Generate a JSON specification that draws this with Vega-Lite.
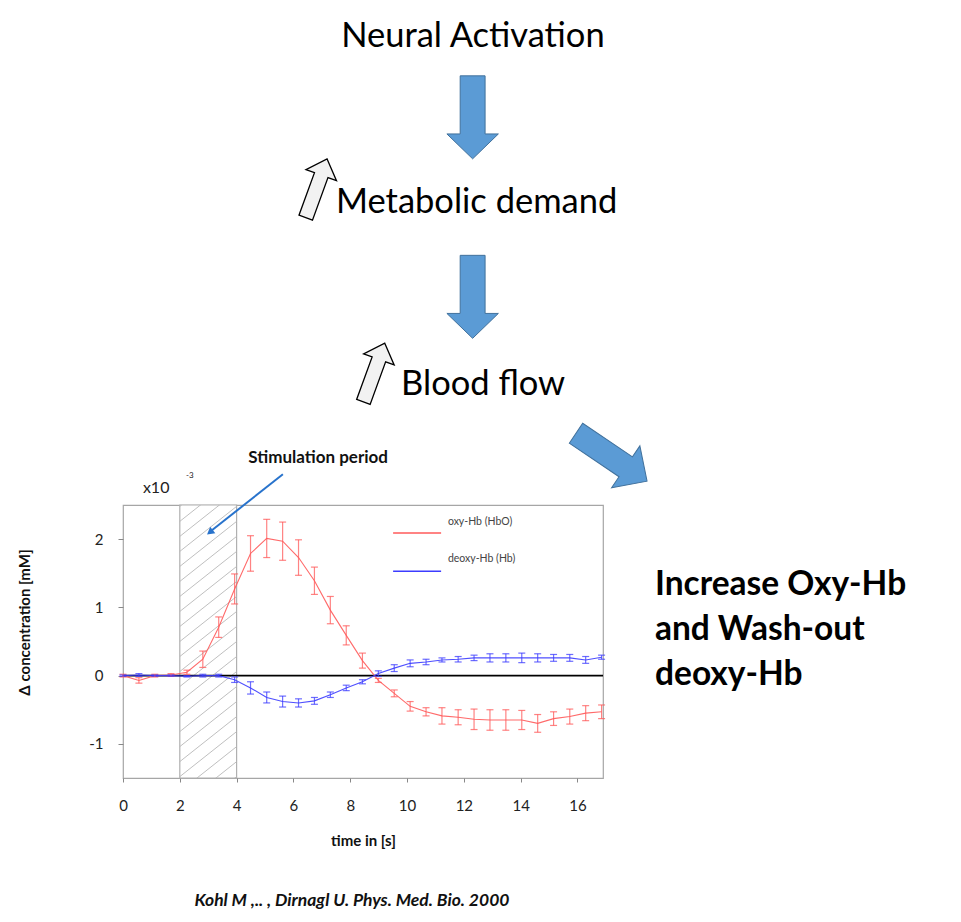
{
  "$schema": "https://vega.github.io/schema/vega-lite/v6.json",
  "width": 480,
  "height": 273,
  "autosize": {"type": "none"},
  "padding": {"left": 123, "top": 505, "right": 358, "bottom": 144},
  "background": "white",
  "config": {"view": {"stroke": "#a6a6a6", "strokeWidth": 1.2}, "font": "Lato"},
  "datasets": {
    "series": [
      {"series": "oxy-Hb (HbO)", "t": 0, "conc": 0.0, "err": 0.02},
      {"series": "oxy-Hb (HbO)", "t": 0.56, "conc": -0.07, "err": 0.04},
      {"series": "oxy-Hb (HbO)", "t": 1.12, "conc": 0.0, "err": 0.02},
      {"series": "oxy-Hb (HbO)", "t": 1.69, "conc": 0.01, "err": 0.02},
      {"series": "oxy-Hb (HbO)", "t": 2.25, "conc": 0.05, "err": 0.03},
      {"series": "oxy-Hb (HbO)", "t": 2.81, "conc": 0.24, "err": 0.12},
      {"series": "oxy-Hb (HbO)", "t": 3.37, "conc": 0.71, "err": 0.15},
      {"series": "oxy-Hb (HbO)", "t": 3.93, "conc": 1.27, "err": 0.22},
      {"series": "oxy-Hb (HbO)", "t": 4.49, "conc": 1.79, "err": 0.26},
      {"series": "oxy-Hb (HbO)", "t": 5.06, "conc": 2.01, "err": 0.28},
      {"series": "oxy-Hb (HbO)", "t": 5.62, "conc": 1.97, "err": 0.28},
      {"series": "oxy-Hb (HbO)", "t": 6.18, "conc": 1.73, "err": 0.26},
      {"series": "oxy-Hb (HbO)", "t": 6.74, "conc": 1.39, "err": 0.2},
      {"series": "oxy-Hb (HbO)", "t": 7.3, "conc": 0.96, "err": 0.2},
      {"series": "oxy-Hb (HbO)", "t": 7.86, "conc": 0.59, "err": 0.14},
      {"series": "oxy-Hb (HbO)", "t": 8.43, "conc": 0.22, "err": 0.11},
      {"series": "oxy-Hb (HbO)", "t": 8.99, "conc": -0.07, "err": 0.03},
      {"series": "oxy-Hb (HbO)", "t": 9.55, "conc": -0.26, "err": 0.05},
      {"series": "oxy-Hb (HbO)", "t": 10.11, "conc": -0.45, "err": 0.07},
      {"series": "oxy-Hb (HbO)", "t": 10.67, "conc": -0.53, "err": 0.06},
      {"series": "oxy-Hb (HbO)", "t": 11.23, "conc": -0.59, "err": 0.12},
      {"series": "oxy-Hb (HbO)", "t": 11.8, "conc": -0.61, "err": 0.11},
      {"series": "oxy-Hb (HbO)", "t": 12.36, "conc": -0.64, "err": 0.15},
      {"series": "oxy-Hb (HbO)", "t": 12.92, "conc": -0.65, "err": 0.15},
      {"series": "oxy-Hb (HbO)", "t": 13.48, "conc": -0.65, "err": 0.15},
      {"series": "oxy-Hb (HbO)", "t": 14.04, "conc": -0.65, "err": 0.14},
      {"series": "oxy-Hb (HbO)", "t": 14.6, "conc": -0.7, "err": 0.13},
      {"series": "oxy-Hb (HbO)", "t": 15.16, "conc": -0.63, "err": 0.1},
      {"series": "oxy-Hb (HbO)", "t": 15.73, "conc": -0.6, "err": 0.11},
      {"series": "oxy-Hb (HbO)", "t": 16.29, "conc": -0.55, "err": 0.11},
      {"series": "oxy-Hb (HbO)", "t": 16.85, "conc": -0.53, "err": 0.1},
      {"series": "deoxy-Hb (Hb)", "t": 0, "conc": 0.0, "err": 0.01},
      {"series": "deoxy-Hb (Hb)", "t": 0.56, "conc": 0.01, "err": 0.02},
      {"series": "deoxy-Hb (Hb)", "t": 1.12, "conc": 0.0, "err": 0.01},
      {"series": "deoxy-Hb (Hb)", "t": 1.69, "conc": 0.0, "err": 0.01},
      {"series": "deoxy-Hb (Hb)", "t": 2.25, "conc": -0.01, "err": 0.01},
      {"series": "deoxy-Hb (Hb)", "t": 2.81, "conc": 0.0, "err": 0.02},
      {"series": "deoxy-Hb (Hb)", "t": 3.37, "conc": 0.0, "err": 0.02},
      {"series": "deoxy-Hb (Hb)", "t": 3.93, "conc": -0.06, "err": 0.04},
      {"series": "deoxy-Hb (Hb)", "t": 4.49, "conc": -0.18, "err": 0.09},
      {"series": "deoxy-Hb (Hb)", "t": 5.06, "conc": -0.32, "err": 0.08},
      {"series": "deoxy-Hb (Hb)", "t": 5.62, "conc": -0.38, "err": 0.08},
      {"series": "deoxy-Hb (Hb)", "t": 6.18, "conc": -0.4, "err": 0.06},
      {"series": "deoxy-Hb (Hb)", "t": 6.74, "conc": -0.37, "err": 0.05},
      {"series": "deoxy-Hb (Hb)", "t": 7.3, "conc": -0.28, "err": 0.04},
      {"series": "deoxy-Hb (Hb)", "t": 7.86, "conc": -0.18, "err": 0.04},
      {"series": "deoxy-Hb (Hb)", "t": 8.43, "conc": -0.09, "err": 0.03},
      {"series": "deoxy-Hb (Hb)", "t": 8.99, "conc": 0.03, "err": 0.04},
      {"series": "deoxy-Hb (Hb)", "t": 9.55, "conc": 0.11, "err": 0.05},
      {"series": "deoxy-Hb (Hb)", "t": 10.11, "conc": 0.18, "err": 0.05},
      {"series": "deoxy-Hb (Hb)", "t": 10.67, "conc": 0.2, "err": 0.04},
      {"series": "deoxy-Hb (Hb)", "t": 11.23, "conc": 0.23, "err": 0.03},
      {"series": "deoxy-Hb (Hb)", "t": 11.8, "conc": 0.24, "err": 0.04},
      {"series": "deoxy-Hb (Hb)", "t": 12.36, "conc": 0.26, "err": 0.04},
      {"series": "deoxy-Hb (Hb)", "t": 12.92, "conc": 0.26, "err": 0.06},
      {"series": "deoxy-Hb (Hb)", "t": 13.48, "conc": 0.26, "err": 0.06},
      {"series": "deoxy-Hb (Hb)", "t": 14.04, "conc": 0.26, "err": 0.07},
      {"series": "deoxy-Hb (Hb)", "t": 14.6, "conc": 0.26, "err": 0.06},
      {"series": "deoxy-Hb (Hb)", "t": 15.16, "conc": 0.26, "err": 0.05},
      {"series": "deoxy-Hb (Hb)", "t": 15.73, "conc": 0.26, "err": 0.05},
      {"series": "deoxy-Hb (Hb)", "t": 16.29, "conc": 0.23, "err": 0.05},
      {"series": "deoxy-Hb (Hb)", "t": 16.85, "conc": 0.27, "err": 0.03}
    ],
    "stimRect": [{"t": 2, "t2": 4, "conc": -1.5, "conc2": 2.5}],
    "hatch": [
      {"t": 2, "t2": 4, "conc": -2.14, "conc2": -1.48},
      {"t": 2, "t2": 4, "conc": -1.92, "conc2": -1.26},
      {"t": 2, "t2": 4, "conc": -1.7, "conc2": -1.04},
      {"t": 2, "t2": 4, "conc": -1.48, "conc2": -0.82},
      {"t": 2, "t2": 4, "conc": -1.26, "conc2": -0.6},
      {"t": 2, "t2": 4, "conc": -1.04, "conc2": -0.38},
      {"t": 2, "t2": 4, "conc": -0.82, "conc2": -0.16},
      {"t": 2, "t2": 4, "conc": -0.6, "conc2": 0.06},
      {"t": 2, "t2": 4, "conc": -0.38, "conc2": 0.28},
      {"t": 2, "t2": 4, "conc": -0.16, "conc2": 0.5},
      {"t": 2, "t2": 4, "conc": 0.06, "conc2": 0.72},
      {"t": 2, "t2": 4, "conc": 0.28, "conc2": 0.94},
      {"t": 2, "t2": 4, "conc": 0.5, "conc2": 1.16},
      {"t": 2, "t2": 4, "conc": 0.72, "conc2": 1.38},
      {"t": 2, "t2": 4, "conc": 0.94, "conc2": 1.6},
      {"t": 2, "t2": 4, "conc": 1.16, "conc2": 1.82},
      {"t": 2, "t2": 4, "conc": 1.38, "conc2": 2.04},
      {"t": 2, "t2": 4, "conc": 1.6, "conc2": 2.26},
      {"t": 2, "t2": 4, "conc": 1.82, "conc2": 2.48},
      {"t": 2, "t2": 4, "conc": 2.04, "conc2": 2.7},
      {"t": 2, "t2": 4, "conc": 2.26, "conc2": 2.92},
      {"t": 2, "t2": 4, "conc": 2.48, "conc2": 3.14}
    ],
    "zero": [{"t": 0, "t2": 16.9, "conc": 0}],
    "legendLines": [
      {"series": "oxy-Hb (HbO)", "t": 9.51, "t2": 11.2, "conc": 2.09},
      {"series": "deoxy-Hb (Hb)", "t": 9.51, "t2": 11.2, "conc": 1.53}
    ],
    "legendText": [
      {"series": "oxy-Hb (HbO)", "t": 11.44, "conc": 2.25},
      {"series": "deoxy-Hb (Hb)", "t": 11.44, "conc": 1.71}
    ],
    "big": [
      {"label": "Neural Activation", "t": 12.32, "conc": 9.21},
      {"label": "Metabolic demand", "t": 12.45, "conc": 6.78},
      {"label": "Blood flow", "t": 12.68, "conc": 4.11}
    ],
    "bold": [
      {"label": "Increase Oxy-Hb", "t": 18.73, "conc": 1.18},
      {"label": "and Wash-out", "t": 18.73, "conc": 0.52},
      {"label": "deoxy-Hb", "t": 18.73, "conc": -0.14}
    ],
    "stim": [{"label": "Stimulation period", "t": 6.87, "conc": 3.12}],
    "x10": [{"label": "x10", "t": 0.7, "conc": 2.68}],
    "exp": [{"label": "-3", "t": 2.22, "conc": 2.9}],
    "cite": [{"label": "Kohl M ,.. , Dirnagl U. Phys. Med. Bio. 2000", "t": 8.06, "conc": -3.38}],
    "pointer": [{"t": 5.63, "conc": 2.95, "t2": 3.13, "conc2": 2.13}],
    "pointerHead": [{"t": 3.06, "conc": 2.1}],
    "blueArrows": [{"t": 12.31, "conc": 8.18}, {"t": 12.31, "conc": 5.55}],
    "diagArrow": [{"t": 17.2, "conc": 3.2}],
    "whiteArrows": [{"t": 6.81, "conc": 7.14}, {"t": 8.84, "conc": 4.44}]
  },
  "encoding": {
    "x": {
      "field": "t", "type": "quantitative",
      "scale": {"domain": [0, 16.9], "nice": false, "zero": false},
      "title": "time in [s]",
      "axis": {"values": [0, 2, 4, 6, 8, 10, 12, 14, 16], "grid": false, "domain": false, "labelFlush": false, "tickSize": 4, "tickColor": "#888", "labelFontSize": 15, "labelColor": "#222", "labelPadding": 16, "titleFontSize": 15, "titleFontWeight": "bold", "titlePadding": 20, "titleColor": "#111"}
    },
    "y": {
      "field": "conc", "type": "quantitative",
      "scale": {"domain": [-1.5, 2.5], "nice": false, "zero": false},
      "title": "Δ concentration [mM]",
      "axis": {"values": [-1, 0, 1, 2], "grid": false, "domain": false, "labelFlush": false, "tickSize": 5, "tickColor": "#888", "labelFontSize": 15, "labelColor": "#222", "labelPadding": 15, "labelExpr": "replace(datum.label, '−', '-')", "titleFontSize": 15, "titleFontWeight": "bold", "titleColor": "#111", "titleX": -99, "titleY": 117, "titleAngle": -90, "titleAlign": "center", "titleBaseline": "middle"}
    }
  },
  "layer": [
    {"data": {"name": "stimRect"}, "mark": {"type": "rect", "fill": "white", "stroke": "#b0b0b0", "strokeWidth": 1.2}, "encoding": {"x2": {"field": "t2"}, "y2": {"field": "conc2"}}},
    {"data": {"name": "hatch"}, "mark": {"type": "rule", "color": "#b8b8b8", "strokeWidth": 0.9, "clip": true}, "encoding": {"x2": {"field": "t2"}, "y2": {"field": "conc2"}}},
    {"data": {"name": "zero"}, "mark": {"type": "rule", "color": "#000", "strokeWidth": 1.6}, "encoding": {"x2": {"field": "t2"}}},
    {"data": {"name": "series"}, "mark": {"type": "line", "strokeWidth": 1.1, "opacity": 0.9}, "encoding": {"color": {"field": "series", "type": "nominal", "scale": {"domain": ["oxy-Hb (HbO)", "deoxy-Hb (Hb)"], "range": ["#ff5a5a", "#3c3cff"]}, "legend": null}}},
    {"data": {"name": "series"}, "mark": {"type": "errorbar", "ticks": {"size": 7}, "thickness": 1.2, "opacity": 0.75}, "encoding": {"yError": {"field": "err"}, "color": {"field": "series", "type": "nominal", "scale": {"domain": ["oxy-Hb (HbO)", "deoxy-Hb (Hb)"], "range": ["#ff5a5a", "#3c3cff"]}, "legend": null}}},
    {"data": {"name": "legendLines"}, "mark": {"type": "rule", "strokeWidth": 1.6}, "encoding": {"x2": {"field": "t2"}, "color": {"field": "series", "type": "nominal", "scale": {"domain": ["oxy-Hb (HbO)", "deoxy-Hb (Hb)"], "range": ["#ff5a5a", "#3c3cff"]}, "legend": null}}},
    {"data": {"name": "legendText"}, "mark": {"type": "text", "align": "left", "baseline": "middle", "fontSize": 10.5, "color": "#444"}, "encoding": {"text": {"field": "series"}}},
    {"data": {"name": "big"}, "mark": {"type": "text", "align": "center", "baseline": "alphabetic", "fontSize": 34.5, "color": "#000"}, "encoding": {"text": {"field": "label"}}},
    {"data": {"name": "bold"}, "mark": {"type": "text", "align": "left", "baseline": "alphabetic", "fontSize": 33.5, "fontWeight": "bold", "color": "#000"}, "encoding": {"text": {"field": "label"}}},
    {"data": {"name": "stim"}, "mark": {"type": "text", "align": "center", "baseline": "alphabetic", "fontSize": 17, "fontWeight": "bold", "color": "#111"}, "encoding": {"text": {"field": "label"}}},
    {"data": {"name": "x10"}, "mark": {"type": "text", "align": "left", "baseline": "alphabetic", "fontSize": 16, "color": "#222"}, "encoding": {"text": {"field": "label"}}},
    {"data": {"name": "exp"}, "mark": {"type": "text", "align": "left", "baseline": "alphabetic", "fontSize": 8, "color": "#222"}, "encoding": {"text": {"field": "label"}}},
    {"data": {"name": "cite"}, "mark": {"type": "text", "align": "center", "baseline": "alphabetic", "fontSize": 17.5, "fontWeight": "bold", "fontStyle": "italic", "color": "#111"}, "encoding": {"text": {"field": "label"}}},
    {"data": {"name": "pointer"}, "mark": {"type": "rule", "color": "#2873cc", "strokeWidth": 2}, "encoding": {"x2": {"field": "t2"}, "y2": {"field": "conc2"}}},
    {"data": {"name": "pointerHead"}, "mark": {"type": "point", "shape": "triangle-up", "angle": 232, "size": 70, "filled": true, "color": "#2873cc", "opacity": 1}, "encoding": {}},
    {"data": {"name": "blueArrows"}, "mark": {"type": "point", "shape": "M-0.3,-1L0.3,-1L0.3,0.4L0.62,0.4L0,1L-0.62,0.4L-0.3,0.4Z", "size": 6889, "filled": true, "fill": "#5B9BD5", "stroke": "#41719C", "strokeWidth": 1, "opacity": 1}, "encoding": {}},
    {"data": {"name": "diagArrow"}, "mark": {"type": "point", "shape": "M-0.28,-1L0.28,-1L0.28,0.4L0.59,0.4L0,1L-0.59,0.4L-0.28,0.4Z", "size": 7344, "angle": -56, "filled": true, "fill": "#5B9BD5", "stroke": "#41719C", "strokeWidth": 1, "opacity": 1}, "encoding": {}},
    {"data": {"name": "whiteArrows"}, "mark": {"type": "point", "shape": "M0,-1L0.52,-0.45L0.23,-0.45L0.23,1L-0.23,1L-0.23,-0.45L-0.52,-0.45Z", "size": 3900, "angle": 20, "filled": true, "fill": "#F2F2F2", "stroke": "#000", "strokeWidth": 1.3, "opacity": 1}, "encoding": {}}
  ]
}
